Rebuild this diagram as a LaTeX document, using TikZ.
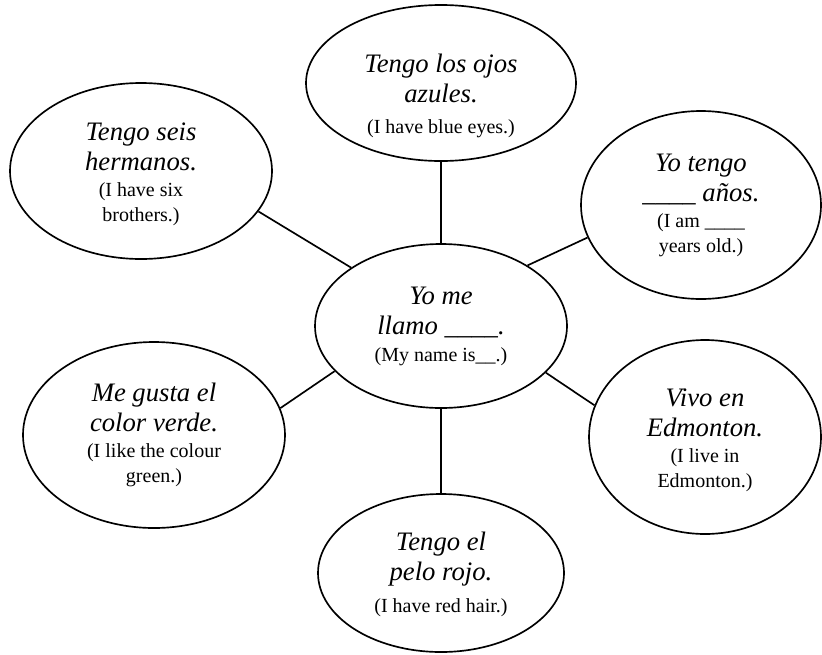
\documentclass[tikz,border=0pt]{standalone}
\usepackage{fontspec}
\setmainfont{Liberation Serif}
\usetikzlibrary{shapes.geometric}
% Spanish sentence lines (italic) and English gloss lines (upright)
\newcommand\esline{\itshape\fontsize{16}{15}\selectfont}
\newcommand\enline{\upshape\fontsize{12}{15}\selectfont}
\begin{document}
\begin{tikzpicture}[x=0.6pt,y=-0.6pt,
  bubble/.style 2 args={draw, ellipse, line width=1pt, inner sep=0pt,
    align=center, minimum width=#1*1.2pt, minimum height=#2*1.2pt,
    font=\fontsize{12}{15}\selectfont},
  link/.style={draw, line width=1pt}]
\useasboundingbox (0,0) rectangle (822,654);

% centre bubble
\node[bubble={126}{82}] (c) at (441,326)
  {\esline Yo me\\[3pt] \esline llamo \_\_\_\_.\\[1.2pt] \enline (My name is\_\_.)};

% surrounding bubbles
\node[bubble={131}{88}] (tl) at (141,171)
  {\esline\rule{0pt}{14pt}Tengo seis\\[3pt] \esline hermanos.\\[0.6pt] \enline (I have six\\ \enline brothers.)};
\node[bubble={135}{74}] (t) at (441,83)
  {\esline\rule{0pt}{27pt}Tengo los ojos\\[3pt] \esline azules.\\[3.6pt] \enline (I have blue eyes.)};
\node[bubble={120}{94}] (rt) at (701,205)
  {\esline Yo tengo\\[3pt] \esline \_\_\_\_ años.\\[0.6pt] \enline (I am \_\_\_\_\\ \enline years old.)};
\node[bubble={131}{93}] (lb) at (154,435)
  {\esline Me gusta el\\[3pt] \esline color verde.\\[0.6pt] \enline (I like the colour\\ \enline green.)};
\node[bubble={116}{97}] (rb) at (705,437)
  {\esline\rule{0pt}{14pt}Vivo en\\[3pt] \esline Edmonton.\\[0.6pt] \enline (I live in\\ \enline Edmonton.)};
\node[bubble={123}{79}] (b) at (441,573)
  {\esline\rule{0pt}{13pt}Tengo el\\[3pt] \esline pelo rojo.\\[4.2pt] \enline (I have red hair.)};

% spokes
\draw[link] (tl.-19.3) -- (c.147.3);
\draw[link] (t.south) -- (c.north);
\draw[link] (c.35) -- (rt.-164.5);
\draw[link] (lb.12.3) -- (c.-157.1);
\draw[link] (c.-24.3) -- (rb.164.4);
\draw[link] (c.south) -- (b.north);
\end{tikzpicture}
\end{document}
